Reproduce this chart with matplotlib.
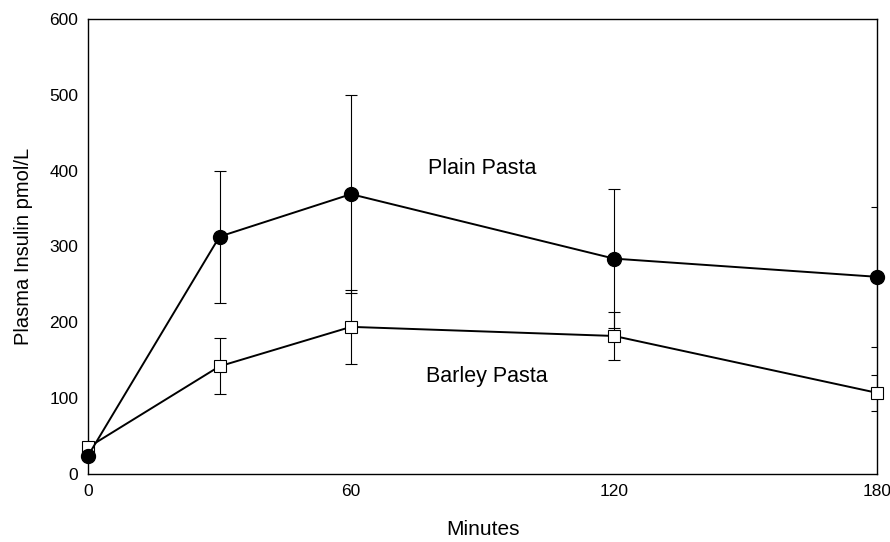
import numpy as np
import matplotlib.pyplot as plt

plt.rcParams['font.family'] = ['Liberation Sans', 'DejaVu Sans']

minutes = np.array([0, 30, 60, 120, 180])
plain = np.array([24, 313, 369, 284, 260])
plain_err = np.array([0, 87, 131, 92, 92])
barley = np.array([35, 142, 194, 182, 107])
barley_err = np.array([6, 37, 49, 32, 24])

fig = plt.figure(figsize=(8.9, 5.42), dpi=100)
ax = fig.add_axes([0.0989, 0.1255, 0.8865, 0.8395])

# barley pasta: open squares
ax.errorbar(minutes, barley, yerr=barley_err, fmt='none', ecolor='k',
            elinewidth=0.8, capsize=4, capthick=0.8, zorder=2)
ax.plot(minutes, barley, 'k-', lw=1.4, marker='s', ms=8.5,
        mfc='white', mec='k', mew=0.8, zorder=3, clip_on=False)

# plain pasta: filled circles
ax.errorbar(minutes, plain, yerr=plain_err, fmt='none', ecolor='k',
            elinewidth=0.8, capsize=4, capthick=0.8, zorder=2)
ax.plot(minutes, plain, 'k-', lw=1.4, marker='o', ms=10,
        mfc='k', mec='k', zorder=4, clip_on=False)

ax.text(90, 403, "Plain Pasta", fontsize=15.5, ha='center', va='center')
ax.text(91, 129, "Barley Pasta", fontsize=15.5, ha='center', va='center')

ax.set_xlim(0, 180)
ax.set_ylim(0, 600)
ax.set_xticks([0, 60, 120, 180])
ax.set_yticks(np.arange(0, 601, 100))
ax.tick_params(length=0, labelsize=12.5, pad=7)
for s in ax.spines.values():
    s.set_linewidth(1.0)

ax.set_xlabel("Minutes", fontsize=15, labelpad=15)
ax.set_ylabel("Plasma Insulin pmol/L", fontsize=14.5, labelpad=12)

fig.savefig("out.png", dpi=100)
